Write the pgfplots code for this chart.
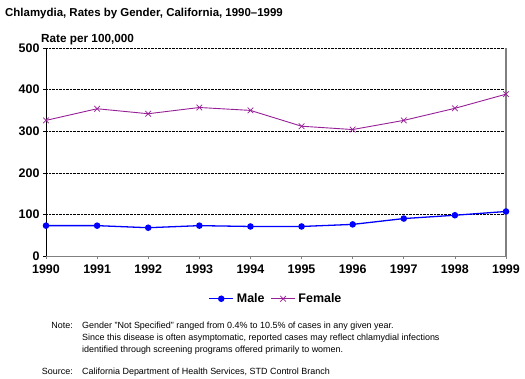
\documentclass[border=0pt]{standalone}
\usepackage{pgfplots}
\pgfplotsset{compat=1.18}
\usepackage{fontspec}
\setmainfont{Liberation Sans}
\definecolor{maleblue}{RGB}{0,0,255}
\definecolor{femalepurple}{RGB}{150,30,150}
\begin{document}
\begin{tikzpicture}[x=1bp,y=1bp]
\path (0,0) rectangle (525,-378);
\node[anchor=west,font=\fontsize{11.5}{13}\selectfont\bfseries,inner sep=0pt] at (5,-14) {Chlamydia, Rates by Gender, California, 1990--1999};
\node[anchor=west,font=\fontsize{11.8}{13}\selectfont\bfseries,inner sep=0pt] at (41,-40) {Rate per 100,000};
\begin{axis}[
  at={(46bp,-48bp)}, anchor=north west,
  scale only axis, width=460bp, height=208bp,
  xmin=1990, xmax=1999, ymin=0, ymax=500,
  xtick={1990,...,1999}, ytick={0,100,...,500},
  axis x line*=bottom, axis y line*=left,
  x axis line style={draw=gray, line width=1pt, -},
  y axis line style={draw=black, line width=0.6pt, -},
  tick align=outside, major tick length=3bp,
  x tick style={gray, line width=0.6pt},
  y tick style={black, line width=0.6pt},
  ymajorgrids, grid style={black, densely dotted, line width=0.6pt},
  /pgf/number format/1000 sep={},
  /pgf/number format/assume math mode=true,
  tick label style={font=\fontsize{12.5}{14}\selectfont\bfseries},
  xticklabel style={yshift=-2bp},
  clip=false,
  legend style={at={(0.5,-0.16)}, anchor=north, draw=none, fill=none,
    legend columns=2, font=\fontsize{12.5}{14}\selectfont\bfseries,
    /tikz/every odd column/.append style={column sep=1bp},
    /tikz/every even column/.append style={column sep=4bp}},
  legend image code/.code={\draw[mark repeat=2,mark phase=2,#1] plot coordinates {(0bp,0bp) (12bp,0bp) (24bp,0bp)};},
  legend cell align=left,
]
\addplot[color=maleblue, line width=1.3pt, mark=*, mark size=2.6pt, mark options={fill=maleblue}]
coordinates {(1990,73) (1991,73) (1992,68) (1993,73) (1994,71) (1995,71) (1996,76) (1997,90) (1998,98) (1999,107)};
\addlegendentry{Male}
\addplot[color=femalepurple, line width=0.9pt, mark=x, mark size=4pt, mark options={line width=0.7pt}]
coordinates {(1990,326) (1991,354) (1992,342) (1993,357) (1994,350) (1995,312) (1996,304) (1997,326) (1998,355) (1999,389)};
\addlegendentry{Female}
\draw[gray, line width=1.2pt] (rel axis cs:1,0) -- (rel axis cs:1,1);
\end{axis}
\begin{scope}[every node/.style={font=\fontsize{9}{10}\selectfont, inner sep=0pt}]
\node[anchor=base east] at (73,-328) {Note:};
\node[anchor=base west] at (82,-328) {Gender "Not Specified" ranged from 0.4\% to 10.5\% of cases in any given year.};
\node[anchor=base west] at (82,-340) {Since this disease is often asymptomatic, reported cases may reflect chlamydial infections};
\node[anchor=base west] at (82,-352) {identified through screening programs offered primarily to women.};
\node[anchor=base east] at (73,-374) {Source:};
\node[anchor=base west] at (82,-374) {California Department of Health Services, STD Control Branch};
\end{scope}
\end{tikzpicture}
\end{document}
